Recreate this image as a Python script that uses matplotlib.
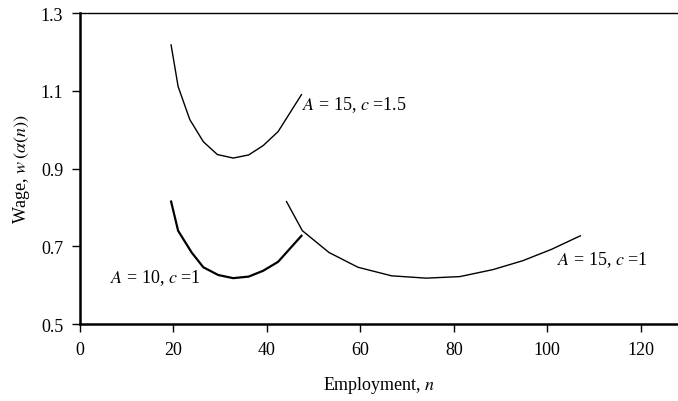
"""Wage curves against employment for three parameter settings."""

import matplotlib
matplotlib.use("Agg")
import matplotlib.pyplot as plt

# A = 15, c = 1.5
n_a15_c15 = [19.5, 21.0, 23.5, 26.4, 29.4, 32.8, 36.1, 39.2, 42.4, 47.4]
w_a15_c15 = [1.218, 1.111, 1.026, 0.969, 0.936, 0.927, 0.935, 0.959, 0.995, 1.090]

# A = 10, c = 1
n_a10_c1 = [19.5, 21.0, 23.9, 26.4, 29.6, 32.8, 36.1, 39.2, 42.4, 47.4]
w_a10_c1 = [0.815, 0.740, 0.684, 0.646, 0.626, 0.618, 0.622, 0.637, 0.660, 0.727]

# A = 15, c = 1
n_a15_c1 = [44.2, 47.6, 53.3, 59.5, 66.7, 74.1, 81.3, 88.4, 94.8, 100.9, 107.1]
w_a15_c1 = [0.815, 0.740, 0.684, 0.646, 0.624, 0.618, 0.622, 0.640, 0.663, 0.692, 0.727]

x_ticks = [0, 20, 40, 60, 80, 100, 120]
y_ticks = [0.5, 0.7, 0.9, 1.1, 1.3]

plt.rcParams["font.family"] = ["Liberation Serif", "DejaVu Serif"]
plt.rcParams["mathtext.fontset"] = "stix"
plt.rcParams["font.size"] = 13

fig = plt.figure(figsize=(6.78, 4.02), dpi=100)
ax = fig.add_axes([0.118, 0.1915, 0.882, 0.7735])

ax.plot(n_a15_c15, w_a15_c15, color="black", lw=1.0)
ax.plot(n_a10_c1, w_a10_c1, color="black", lw=1.6)
ax.plot(n_a15_c1, w_a15_c1, color="black", lw=1.0)

ax.text(47.6, 1.065, "$A$ = 15, $c$ =1.5", ha="left", va="center", fontsize=13)
ax.text(6.5, 0.621, "$A$ = 10, $c$ =1", ha="left", va="center", fontsize=13)
ax.text(102.2, 0.667, "$A$ = 15, $c$ =1", ha="left", va="center", fontsize=13)

ax.set_xlim(0, 128)
ax.set_ylim(0.5, 1.3)
ax.set_xticks(x_ticks)
ax.set_yticks(y_ticks)
ax.set_yticklabels([f"{v:.1f}" for v in y_ticks])
ax.tick_params(direction="out", length=6, width=1.0, pad=6)

ax.spines["right"].set_visible(False)
ax.spines["left"].set_linewidth(1.8)
ax.spines["bottom"].set_linewidth(1.8)
ax.spines["top"].set_linewidth(1.0)

ax.set_xlabel("Employment, $n$", labelpad=12)
ax.set_ylabel(r"Wage, $w\,(\alpha(n))$", labelpad=6)

fig.savefig("out.png", dpi=100)
plt.close(fig)
